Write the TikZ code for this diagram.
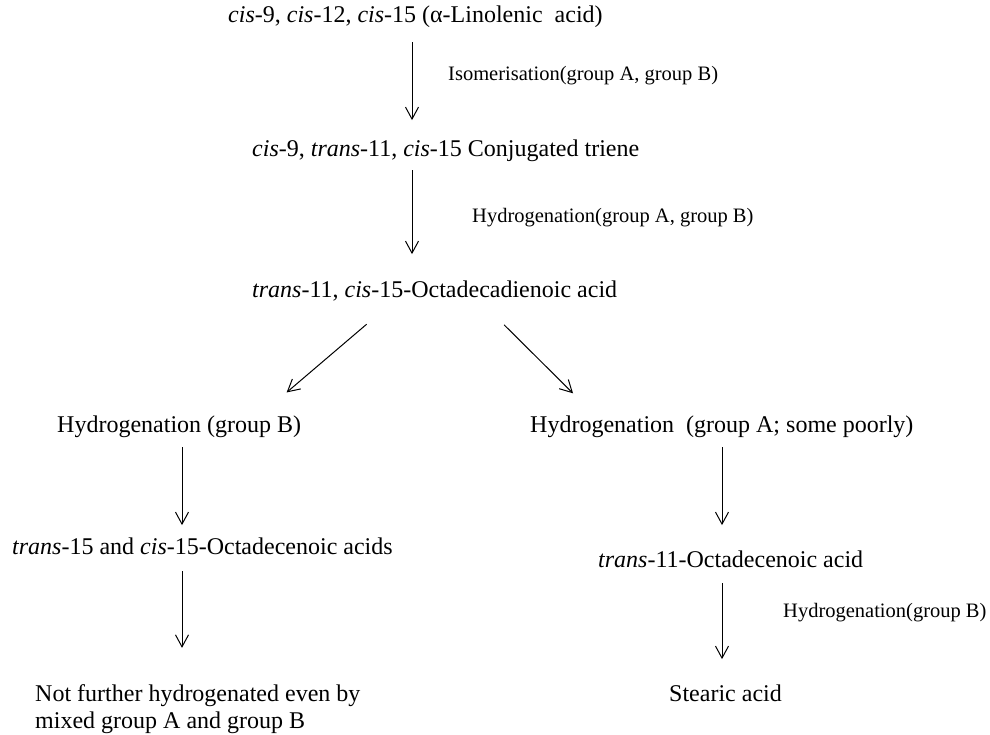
\documentclass[tikz,border=0pt]{standalone}
\usepackage{fontspec}
\setmainfont{Liberation Serif}
\usetikzlibrary{arrows.meta,positioning,calc}

\tikzset{
  txt/.style={anchor=base west,inner sep=0pt,font=\fontsize{24}{27}\selectfont},
  lbl/.style={anchor=base west,inner sep=0pt,font=\fontsize{20.5}{24}\selectfont},
  arr/.style={-{Straight Barb[length=12pt,width=13pt]},line width=1pt}
}

\begin{document}
\begin{tikzpicture}[x=1pt,y=-1pt]
  \useasboundingbox (0,0) rectangle (990,735);
  % main chain
  \node[txt] (lin) at (228,23) {\textit{cis}-9, \textit{cis}-12, \textit{cis}-15 (α-Linolenic\ \ acid)};
  \node[txt] (tri) at (252,157) {\textit{cis}-9, \textit{trans}-11, \textit{cis}-15 Conjugated triene};
  \node[txt] (dien) at (252,297) {\textit{trans}-11, \textit{cis}-15-Octadecadienoic acid};
  \node[lbl] (iso) at (448,81) {Isomerisation(group A, group B)};
  \node[lbl] (hab) at (472,223) {Hydrogenation(group A, group B)};
  % two branches
  \node[txt] (hb) at (57,432) {Hydrogenation (group B)};
  \node[txt] (ha) at (530,432) {Hydrogenation\ \ (group A; some poorly)};
  \node[txt] (mono) at (12,554) {\textit{trans}-15 and\ \textit{cis}-15-Octadecenoic acids};
  \node[txt] (t11) at (598,567) {\textit{trans}-11-Octadecenoic acid};
  \node[lbl] (hgb) at (783,617) {Hydrogenation(group B)};
  \node[txt,align=left] (nf) at (35,728) {Not further hydrogenated even by\\mixed group A and group B};
  \node[txt] (st) at (669,701) {Stearic acid};
  % arrows
  \coordinate (c) at (412,0);
  \coordinate (l) at (182,0);
  \coordinate (r) at (722,0);
  \draw[arr,shorten <=14pt,shorten >=20pt] (lin.south -| c) -- (tri.north -| c);
  \draw[arr,shorten <=8pt,shorten >=26pt] (tri.south -| c) -- (dien.north -| c);
  \draw[arr,shorten <=36pt,shorten >=35pt] ([xshift=142pt]dien.south west) -- ([xshift=203pt]hb.north west);
  \draw[arr,shorten <=34pt,shorten >=31pt] ([xshift=228pt]dien.south west) -- ([xshift=65pt]ha.north west);
  \draw[arr,shorten <=10pt,shorten >=12pt] (hb.south -| l) -- (mono.north -| l);
  \draw[arr,shorten <=10pt,shorten >=25pt] (ha.south -| r) -- (t11.north -| r);
  \draw[arr,shorten <=17pt,shorten >=36pt] (mono.south -| l) -- (nf.north -| l);
  \draw[arr,shorten <=16pt,shorten >=25pt] (t11.south -| r) -- (st.north -| r);
\end{tikzpicture}
\end{document}
